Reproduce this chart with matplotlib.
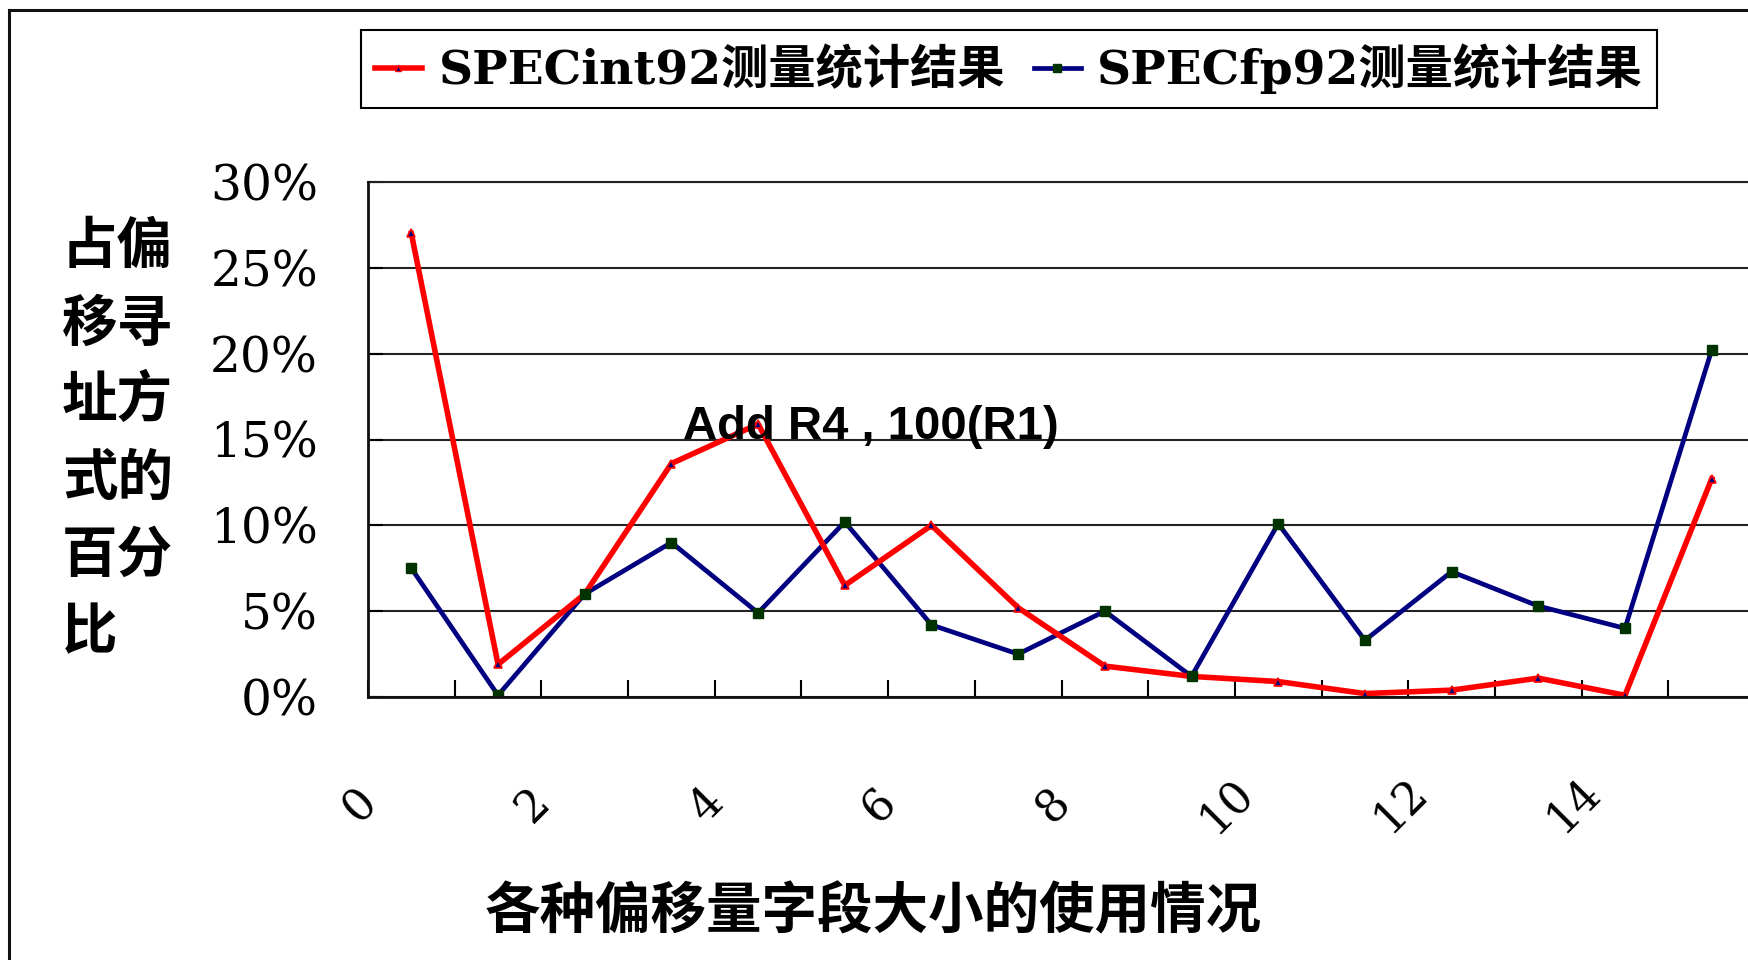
import numpy as np
import matplotlib
matplotlib.use("Agg")
import matplotlib.pyplot as plt
import matplotlib.transforms as mtransforms
from matplotlib.lines import Line2D

# offset-size categories and measured shares (%)
categories = list(range(16))
int_share = [27.0, 1.9, 6.0, 13.6, 15.9, 6.5, 10.0, 5.2, 1.8, 1.2, 0.9, 0.2, 0.4, 1.1, 0.1, 12.7]
fp_share = [7.5, 0.1, 6.0, 9.0, 4.9, 10.2, 4.2, 2.5, 5.0, 1.2, 10.1, 3.3, 7.3, 5.3, 4.0, 20.2]
series_names = ["SPECint92测量统计结果", "SPECfp92测量统计结果"]
x_ticklabels = [str(c) if c % 2 == 0 else "" for c in categories]
y_ticks = [0, 5, 10, 15, 20, 25, 30]
ylabel_text = "占偏\n移寻\n址方\n式的\n百分\n比"
xlabel_text = "各种偏移量字段大小的使用情况"
note_text = "Add R4 , 100(R1)"

W, H = 1748, 960
fig = plt.figure(figsize=(W / 100, H / 100), dpi=100)
fig.patch.set_facecolor("white")

# plot area (right edge runs just past the figure)
ax = fig.add_axes([368 / W, 1 - 697 / H, 1387 / W, 515 / H])
xs = np.array(categories) + 0.5

ax.plot(xs, np.array(fp_share) / 100, color="#000080", lw=3.4, zorder=3)
ax.plot(xs, np.array(int_share) / 100, color="#ff0000", lw=4.0, zorder=4,
        marker="^", ms=6, mfc="#000080", mec="#ff0000", mew=1.2)
ax.plot(xs, np.array(fp_share) / 100, ls="none", zorder=5,
        marker="s", ms=7.5, mfc="#003300", mec="#003300")

ax.set_xlim(0, 16)
ax.set_ylim(0, 0.30)
ax.set_yticks([v / 100 for v in y_ticks])
ax.set_yticklabels([f"{v}%" for v in y_ticks])
ax.set_xticks(categories)
ax.set_xticklabels(x_ticklabels)

ax.grid(axis="y", color="#222222", lw=1.5, zorder=1)
ax.set_axisbelow(True)
ax.spines["right"].set_visible(False)
# top edge sits on the 30% gridline
ax.spines["top"].set_color("#222222")
ax.spines["top"].set_linewidth(1.5)
for side in ["left", "bottom"]:
    ax.spines[side].set_linewidth(2.0)
    ax.spines[side].set_color("#111111")
    ax.spines[side].set_zorder(6)

ax.tick_params(axis="y", direction="in", length=11, width=1.5, pad=36,
               labelsize=35, labelfontfamily="DejaVu Serif")
ax.tick_params(axis="x", direction="in", length=12, width=1.5, pad=78,
               labelsize=32, labelfontfamily="DejaVu Serif")
shift = mtransforms.ScaledTranslation(-0.08, 0, fig.dpi_scale_trans)
for lab in ax.get_xticklabels():
    lab.set_rotation(45)
    lab.set_ha("center")
    lab.set_va("center")
    lab.set_rotation_mode("anchor")
    lab.set_transform(lab.get_transform() + shift)

ax.text(3.63, 0.157, note_text, ha="left", va="center", fontsize=34,
        fontweight="bold", family="Liberation Sans", zorder=7)

# axis titles
fig.text(62 / W, 1 - 440 / H, ylabel_text, ha="left", va="center",
         fontsize=40, fontweight="bold", family="Noto Sans CJK SC",
         linespacing=1.48)
fig.text(873 / W, 1 - 912 / H, xlabel_text, ha="center", va="center",
         fontsize=40, fontweight="bold", family="Noto Sans CJK SC")

# legend
h_int = Line2D([], [], color="#ff0000", lw=4.0, marker="^", ms=4,
               mfc="#000080", mec="#ff0000")
h_fp = Line2D([], [], color="#000080", lw=3.4, marker="s", ms=6,
              mfc="#003300", mec="#003300")
leg = fig.legend([h_int, h_fp], series_names, ncol=2, loc="center",
                 bbox_to_anchor=(1009 / W, 1 - 69 / H), frameon=True,
                 fancybox=False, edgecolor="black", framealpha=1,
                 handlelength=1.0, handletextpad=0.35, columnspacing=0.6,
                 borderpad=0.3,
                 prop={"family": ["DejaVu Serif", "Noto Sans CJK SC"],
                       "weight": "bold", "size": 34})
leg.get_frame().set_linewidth(1.5)

# outer chart frame (left and top edges)
fig.add_artist(Line2D([9 / W, 9 / W], [-0.01, 1 - 10 / H], color="#111111",
                      lw=2.2, transform=fig.transFigure))
fig.add_artist(Line2D([9 / W, 1.01], [1 - 10 / H, 1 - 10 / H], color="#111111",
                      lw=2.2, transform=fig.transFigure))

fig.savefig("out.png", dpi=100)
